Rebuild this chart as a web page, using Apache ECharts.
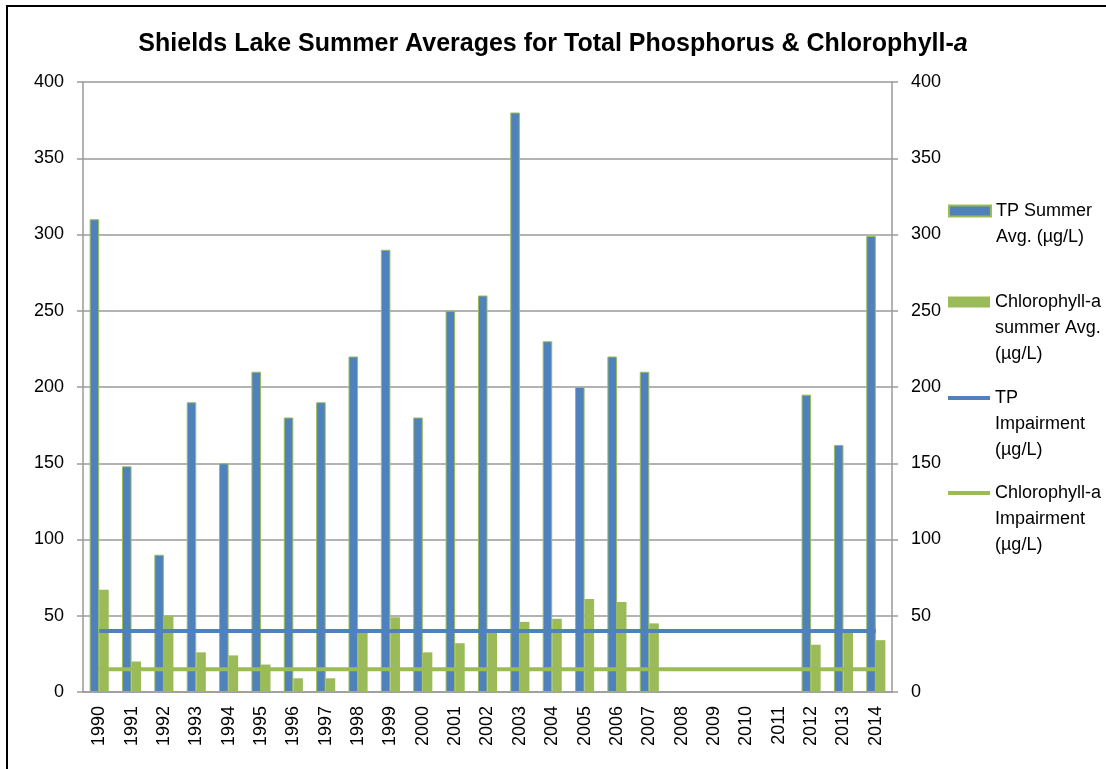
<!DOCTYPE html>
<html>
<head>
<meta charset="utf-8">
<script src="https://cdn.jsdelivr.net/npm/echarts@6/dist/echarts.min.js"></script>
<style>
  html, body { margin: 0; padding: 0; background: #fff; }
  #chart { width: 1106px; height: 769px; }
</style>
</head>
<body>
<div id="chart"></div>
<script>
// years on the x axis
var years = ['1990', '1991', '1992', '1993', '1994', '1995', '1996', '1997', '1998', '1999',
  '2000', '2001', '2002', '2003', '2004', '2005', '2006', '2007', '2008', '2009',
  '2010', '2011', '2012', '2013', '2014'];

// TP summer average (µg/L), no sampling 2008-2011
var tpAvg = [310, 148, 90, 190, 150, 210, 180, 190, 220, 290,
  180, 250, 260, 380, 230, 200, 220, 210, null, null,
  null, null, 195, 162, 299];

// Chlorophyll-a summer average (µg/L)
var chlAvg = [67, 20, 50, 26, 24, 18, 9, 9, 39, 49,
  26, 32, 41, 46, 48, 61, 59, 45, null, null,
  null, null, 31, 40, 34];

// impairment thresholds
var tpImpair = [40, 40, 40, 40, 40, 40, 40, 40, 40, 40,
  40, 40, 40, 40, 40, 40, 40, 40, 40, 40,
  40, 40, 40, 40, 40];
var chlImpair = [15, 15, 15, 15, 15, 15, 15, 15, 15, 15,
  15, 15, 15, 15, 15, 15, 15, 15, 15, 15,
  15, 15, 15, 15, 15];

var axisTicks = [0, 50, 100, 150, 200, 250, 300, 350, 400];

var blue = '#4F81BD';
var green = '#9BBB59';
var grey = '#9a9a9a';
var font = 'Liberation Sans';

var chart = echarts.init(document.getElementById('chart'));

// legend text is multi-line; blank lines on top keep the icon level with the first line
function legendBlock(name, top, lines, iconH) {
  return {
    data: [name],
    left: 948,
    top: top,
    padding: 0,
    icon: 'rect',
    itemWidth: 42,
    itemHeight: iconH,
    itemGap: 3,
    selectedMode: false,
    formatter: function (n) {
      var pre = '';
      for (var i = 1; i < lines; i++) pre += '\n';
      return pre + n;
    },
    textStyle: {
      fontFamily: font,
      fontSize: 18,
      color: '#000',
      lineHeight: 26
    }
  };
}

var option = {
  animation: false,
  backgroundColor: '#fff',
  title: {
    text: '{b|Shields Lake Summer Averages for Total Phosphorus & Chlorophyll-}{i|a}',
    left: 'center',
    top: 27,
    textStyle: {
      rich: {
        b: { fontFamily: font, fontWeight: 'bold', fontSize: 25, color: '#000' },
        i: { fontFamily: font, fontWeight: 'bold', fontStyle: 'italic', fontSize: 25, color: '#000' }
      }
    }
  },
  graphic: [{
    type: 'rect',
    shape: { x: 7, y: 6, width: 1110, height: 800 },
    style: { fill: 'none', stroke: '#000', lineWidth: 2 },
    silent: true
  }],
  legend: [
    legendBlock('TP Summer\nAvg. (µg/L)', 172, 2, 11),
    legendBlock('Chlorophyll-a\nsummer Avg.\n(µg/L)', 237, 3, 11),
    legendBlock('TP\nImpairment\n(µg/L)', 333, 3, 4),
    legendBlock('Chlorophyll-a\nImpairment\n(µg/L)', 428, 3, 4)
  ],
  grid: {
    left: 83,
    right: 214,
    top: 82,
    bottom: 77
  },
  xAxis: {
    type: 'category',
    data: years,
    axisLine: { lineStyle: { color: grey, width: 1.5 } },
    axisTick: { length: 6, lineStyle: { color: grey, width: 1.5 } },
    axisLabel: {
      rotate: 90,
      margin: 14,
      fontFamily: font,
      fontSize: 18,
      color: '#000'
    },
    splitLine: { show: false }
  },
  yAxis: [{
    type: 'value',
    min: axisTicks[0],
    max: axisTicks[axisTicks.length - 1],
    interval: 50,
    position: 'left',
    axisLine: { show: true, lineStyle: { color: grey, width: 1.5 } },
    axisTick: { show: true, length: 6, lineStyle: { color: grey, width: 1.5 } },
    axisLabel: { margin: 19, fontFamily: font, fontSize: 18, color: '#000' },
    splitLine: { lineStyle: { color: grey, width: 1.5 } }
  }, {
    type: 'value',
    min: axisTicks[0],
    max: axisTicks[axisTicks.length - 1],
    interval: 50,
    position: 'right',
    axisLine: { show: true, lineStyle: { color: grey, width: 1.5 } },
    axisTick: { show: true, length: 6, lineStyle: { color: grey, width: 1.5 } },
    axisLabel: { margin: 19, fontFamily: font, fontSize: 18, color: '#000' },
    splitLine: { show: false }
  }],
  series: [{
    name: 'TP Summer\nAvg. (µg/L)',
    type: 'bar',
    data: tpAvg,
    barGap: '0%',
    barCategoryGap: '41%',
    itemStyle: { color: blue, borderColor: green, borderWidth: 1 }
  }, {
    name: 'Chlorophyll-a\nsummer Avg.\n(µg/L)',
    type: 'bar',
    data: chlAvg,
    itemStyle: { color: green }
  }, {
    name: 'TP\nImpairment\n(µg/L)',
    type: 'line',
    yAxisIndex: 1,
    data: tpImpair,
    symbol: 'none',
    lineStyle: { color: blue, width: 4 },
    itemStyle: { color: blue },
    z: 5
  }, {
    name: 'Chlorophyll-a\nImpairment\n(µg/L)',
    type: 'line',
    yAxisIndex: 1,
    data: chlImpair,
    symbol: 'none',
    lineStyle: { color: green, width: 4 },
    itemStyle: { color: green },
    z: 5
  }]
};

chart.setOption(option);
</script>
</body>
</html>
